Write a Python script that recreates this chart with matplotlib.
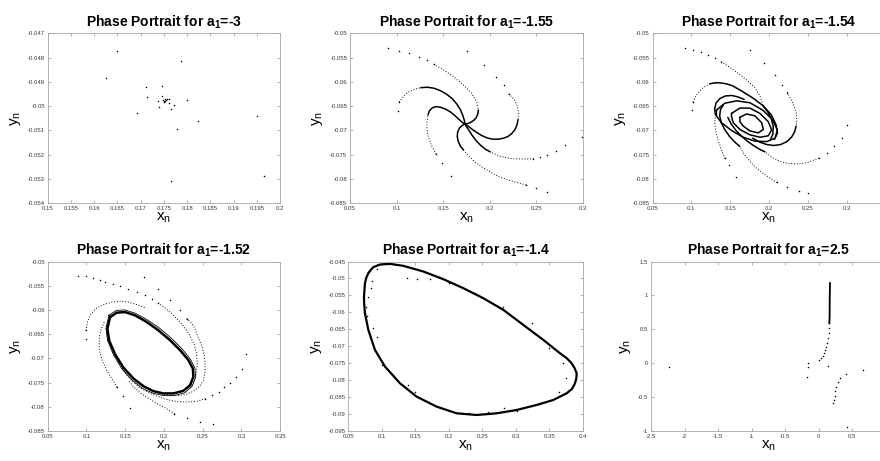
import matplotlib
matplotlib.use("Agg")
import matplotlib.pyplot as plt
from matplotlib.ticker import FixedLocator, FuncFormatter

plt.rcParams['font.family'] = ['Liberation Sans', 'DejaVu Sans']
plt.rcParams['mathtext.fontset'] = 'custom'
plt.rcParams['mathtext.rm'] = 'Liberation Sans'
plt.rcParams['mathtext.it'] = 'Liberation Sans:italic'
plt.rcParams['mathtext.bf'] = 'Liberation Sans:bold'

# ---------------- a1 = -3 : scattered iterates around the fixed point
p1_x = [0.16499, 0.17877, 0.16255, 0.17123, 0.17468, 0.17138, 0.17453, 0.17374,
        0.17403, 0.17489, 0.17525, 0.17561, 0.17511, 0.1754, 0.1750, 0.1752,
        0.17611, 0.17611, 0.17719, 0.17654, 0.18006, 0.16915, 0.18228, 0.17791,
        0.19505, 0.17647, 0.19641]
p1_y = [-0.04773, -0.04815, -0.04883, -0.0492, -0.04917, -0.04962, -0.04957, -0.04977,
        -0.05003, -0.04975, -0.04979, -0.04972, -0.04983, -0.04973, -0.04978, -0.04969,
        -0.0497, -0.04985, -0.04996, -0.05013, -0.04975, -0.05027, -0.0506, -0.05093,
        -0.0504, -0.05308, -0.05289]

# ---------------- a1 = -1.55 : stable focus
p2_dots_x = [0.0912, 0.1030, 0.1138, 0.1241, 0.1327, 0.1403,
             0.1757, 0.1940, 0.2065, 0.2151, 0.2208,
             0.299, 0.2807, 0.2710, 0.2620, 0.2542, 0.2470,
             0.1012, 0.1030,
             0.1585, 0.1485, 0.1424,
             0.2613, 0.2499, 0.2388]
p2_dots_y = [-0.0531, -0.0536, -0.0541, -0.0549, -0.0556, -0.0564,
             -0.0536, -0.0565, -0.0589, -0.0607, -0.0625,
             -0.0714, -0.0731, -0.0742, -0.0751, -0.0755, -0.0758,
             -0.0659, -0.0641,
             -0.0793, -0.0768, -0.0748,
             -0.0826, -0.0819, -0.0812]
p2_dotted = [
    ([0.1403, 0.1503, 0.1610, 0.1718, 0.1807, 0.1861, 0.1879],
     [-0.0564, -0.0575, -0.0589, -0.0606, -0.0624, -0.0641, -0.0658]),
    ([0.2208, 0.2262, 0.2298, 0.2312, 0.2305],
     [-0.0625, -0.0636, -0.0650, -0.0665, -0.0678]),
    ([0.2470, 0.2362, 0.2237, 0.2112, 0.2004],
     [-0.0758, -0.0759, -0.0758, -0.0753, -0.0744]),
    ([0.1030, 0.1073, 0.1127, 0.1198, 0.1260],
     [-0.0641, -0.0630, -0.0621, -0.0615, -0.0612]),
    ([0.1424, 0.1377, 0.1342, 0.1327, 0.1327, 0.1338],
     [-0.0748, -0.0732, -0.0714, -0.0699, -0.0682, -0.0668]),
    ([0.2388, 0.2291, 0.2201, 0.2094, 0.2004, 0.1915, 0.1836, 0.1772, 0.1718],
     [-0.0812, -0.0807, -0.0802, -0.0795, -0.0785, -0.0775, -0.0764, -0.0752, -0.0740]),
]
p2_solid = [
    ([0.1879, 0.1873, 0.1855, 0.1825, 0.1790, 0.1760, 0.1736],
     [-0.0658, -0.0666, -0.0674, -0.0680, -0.0684, -0.0686, -0.0687]),
    ([0.2305, 0.2295, 0.2273, 0.2240, 0.2201, 0.2150, 0.2094, 0.2030, 0.1968, 0.1910, 0.1861,
      0.1815, 0.1775, 0.1736],
     [-0.0678, -0.0688, -0.0698, -0.0706, -0.0712, -0.0716, -0.0718, -0.0718, -0.0715, -0.0710,
      -0.0704, -0.0698, -0.0692, -0.0687]),
    ([0.2004, 0.1950, 0.1900, 0.1855, 0.1815, 0.1782, 0.1755, 0.1736],
     [-0.0744, -0.0738, -0.0730, -0.0721, -0.0711, -0.0701, -0.0693, -0.0687]),
    ([0.1260, 0.1330, 0.1400, 0.1470, 0.1535, 0.1595, 0.1645, 0.1685, 0.1712, 0.1728, 0.1736],
     [-0.0612, -0.0611, -0.0613, -0.0618, -0.0625, -0.0634, -0.0645, -0.0657, -0.0669, -0.0679, -0.0687]),
    ([0.1338, 0.1352, 0.1380, 0.1420, 0.1470, 0.1525, 0.1580, 0.1630, 0.1675, 0.1710, 0.1736],
     [-0.0668, -0.0660, -0.0654, -0.0651, -0.0652, -0.0656, -0.0662, -0.0670, -0.0678, -0.0684, -0.0687]),
    ([0.1718, 0.1685, 0.1662, 0.1652, 0.1658, 0.1680, 0.1710, 0.1736],
     [-0.0740, -0.0732, -0.0722, -0.0712, -0.0702, -0.0694, -0.0689, -0.0687]),
]

# ---------------- a1 = -1.54 : weakly stable focus
p3_dots_x = [0.0914, 0.1022, 0.1121, 0.1216, 0.1302, 0.1388,
             0.1754, 0.1940, 0.2078, 0.2172, 0.2237,
             0.3004, 0.2940, 0.2841, 0.2746, 0.2638,
             0.1009, 0.1022,
             0.1573, 0.1487, 0.1431,
             0.2500, 0.2392, 0.2228, 0.2099]
p3_dots_y = [-0.0531, -0.0534, -0.0539, -0.0545, -0.0551, -0.0559,
             -0.0534, -0.0562, -0.0586, -0.0606, -0.0622,
             -0.0689, -0.0716, -0.0733, -0.0746, -0.0757,
             -0.0658, -0.0641,
             -0.0795, -0.0772, -0.0757,
             -0.0828, -0.0824, -0.0816, -0.0807]
p3_dotted = [
    ([0.1388, 0.1466, 0.1591, 0.1711, 0.1815, 0.1884, 0.1927],
     [-0.0559, -0.0567, -0.0581, -0.0596, -0.0611, -0.0629, -0.0650]),
    ([0.2237, 0.2284, 0.2323, 0.2349, 0.2358, 0.2349],
     [-0.0622, -0.0636, -0.0650, -0.0663, -0.0678, -0.0691]),
    ([0.2638, 0.2530, 0.2444, 0.2358, 0.2250, 0.2142, 0.2034, 0.1948],
     [-0.0757, -0.0764, -0.0768, -0.0769, -0.0768, -0.0764, -0.0755, -0.0744]),
    ([0.1022, 0.1065, 0.1142, 0.1237],
     [-0.0641, -0.0627, -0.0613, -0.0604]),
    ([0.1431, 0.1388, 0.1345, 0.1315, 0.1302, 0.1310],
     [-0.0757, -0.0740, -0.0720, -0.0702, -0.0685, -0.0668]),
    ([0.2099, 0.1991, 0.1905, 0.1819, 0.1746, 0.1677, 0.1625],
     [-0.0807, -0.0796, -0.0786, -0.0775, -0.0762, -0.0748, -0.0733]),
]
p3_solid = [
    # arms winding onto the nested loops
    ([0.1927, 0.1985, 0.2030, 0.2055, 0.2050, 0.2020],
     [-0.0650, -0.0662, -0.0676, -0.0692, -0.0708, -0.0718]),
    ([0.2349, 0.2330, 0.2290, 0.2230, 0.2150, 0.2060, 0.1970, 0.1880, 0.1790],
     [-0.0691, -0.0703, -0.0714, -0.0723, -0.0729, -0.0731, -0.0729, -0.0724, -0.0716]),
    ([0.1948, 0.1880, 0.1800, 0.1720, 0.1640, 0.1570, 0.1510, 0.1470],
     [-0.0744, -0.0739, -0.0731, -0.0722, -0.0711, -0.0699, -0.0686, -0.0673]),
    ([0.1237, 0.1300, 0.1370, 0.1450, 0.1530, 0.1650, 0.1800, 0.1930, 0.2030, 0.2090, 0.2110,
      0.2070],
     [-0.0604, -0.0602, -0.0602, -0.0604, -0.0608, -0.0619, -0.0634, -0.0650, -0.0668, -0.0688,
      -0.0705, -0.0718]),
    ([0.1310, 0.1300, 0.1320, 0.1370, 0.1440, 0.1520, 0.1600, 0.1680],
     [-0.0668, -0.0655, -0.0643, -0.0634, -0.0629, -0.0628, -0.0631, -0.0636]),
    ([0.1625, 0.1560, 0.1490, 0.1430, 0.1385, 0.1365, 0.1375, 0.1410],
     [-0.0733, -0.0724, -0.0712, -0.0698, -0.0684, -0.0670, -0.0657, -0.0648]),
    # nested loops around the focus
    ([0.1323, 0.1431, 0.1582, 0.1754, 0.1918, 0.2047, 0.2108, 0.2078, 0.1970, 0.1819, 0.1668,
      0.1517, 0.1388, 0.1323, 0.1323],
     [-0.0658, -0.0644, -0.0639, -0.0643, -0.0658, -0.0678, -0.0699, -0.0716, -0.0723, -0.0722,
      -0.0714, -0.0700, -0.0684, -0.0670, -0.0658]),
    ([0.1517, 0.1625, 0.1754, 0.1884, 0.1991, 0.2034, 0.1991, 0.1884, 0.1754, 0.1625, 0.1539,
      0.1517, 0.1517],
     [-0.0665, -0.0654, -0.0654, -0.0665, -0.0682, -0.0699, -0.0711, -0.0714, -0.0709, -0.0698,
      -0.0684, -0.0671, -0.0665]),
    ([0.1625, 0.1711, 0.1819, 0.1905, 0.1927, 0.1862, 0.1754, 0.1668, 0.1625, 0.1625],
     [-0.0673, -0.0666, -0.0670, -0.0684, -0.0698, -0.0705, -0.0701, -0.0691, -0.0682, -0.0673]),
]

# ---------------- a1 = -1.52 : small limit cycle
p4_cycle_x = [0.1305, 0.1391, 0.1498, 0.1627, 0.1779, 0.1928, 0.2080, 0.2209, 0.2316, 0.2373,
              0.2380, 0.2338, 0.2251, 0.2122, 0.1993, 0.1864, 0.1735, 0.1606, 0.1476, 0.1369,
              0.1292, 0.1270, 0.1305]
p4_cycle_y = [-0.06147, -0.06056, -0.06044, -0.06112, -0.0625, -0.06421, -0.06627, -0.06833,
              -0.07038, -0.07209, -0.07382, -0.07553, -0.0767, -0.07724, -0.07724, -0.07677,
              -0.07574, -0.07415, -0.07189, -0.06915, -0.06627, -0.06386, -0.06147]
p4_ring_x = [0.1290, 0.1385, 0.1498, 0.1632, 0.1790, 0.1945, 0.2100, 0.2232, 0.2342, 0.2400,
             0.2408, 0.2362, 0.2268, 0.2130, 0.1993, 0.1858, 0.1722, 0.1590, 0.1458, 0.1350,
             0.1272, 0.1252, 0.1290]
p4_ring_y = [-0.0611, -0.0601, -0.0600, -0.0607, -0.0621, -0.0638, -0.0659, -0.0680, -0.0702,
             -0.0720, -0.0739, -0.0758, -0.0771, -0.0777, -0.0777, -0.0772, -0.0762, -0.0745,
             -0.0722, -0.0693, -0.0663, -0.0638, -0.0611]
p4_dots_x = [0.0887, 0.0995, 0.1090, 0.1170, 0.1240, 0.1348, 0.1434, 0.1542, 0.1649, 0.1757, 0.1843, 0.1929,
             0.1745, 0.1929, 0.2080, 0.2209, 0.2295,
             0.3061, 0.3005, 0.2932, 0.2855, 0.2777, 0.2704, 0.2618, 0.2532,
             0.0995, 0.0995,
             0.1563, 0.1469, 0.1391,
             0.2639, 0.2459, 0.2295, 0.2136]
p4_dots_y = [-0.0530, -0.0530, -0.0534, -0.0538, -0.0543, -0.0546, -0.0551, -0.0556, -0.0563, -0.0570, -0.0577, -0.0586,
             -0.0532, -0.0556, -0.0580, -0.0601, -0.0618,
             -0.0692, -0.0721, -0.0738, -0.0750, -0.0760, -0.0769, -0.0776, -0.0783,
             -0.0661, -0.0642,
             -0.0802, -0.0777, -0.0759,
             -0.0836, -0.0832, -0.0824, -0.0814]
p4_dotted = [
    ([0.1929, 0.2015, 0.2100, 0.2185, 0.2265, 0.2335, 0.2390, 0.2420, 0.2430, 0.2420, 0.2390, 0.2330],
     [-0.0586, -0.0596, -0.0608, -0.0621, -0.0636, -0.0653, -0.0671, -0.0690, -0.0710, -0.0730, -0.0748, -0.0762]),
    ([0.2295, 0.2381, 0.2424, 0.2467, 0.2501, 0.2519, 0.2531, 0.2531, 0.2510, 0.2460, 0.2380, 0.2274,
      0.2144, 0.2015, 0.1886],
     [-0.0618, -0.0632, -0.0649, -0.0666, -0.0680, -0.0693, -0.0711, -0.0728, -0.0745, -0.0758, -0.0768,
      -0.0775, -0.0777, -0.0775, -0.0769]),
    ([0.2532, 0.2446, 0.2338, 0.2231, 0.2123, 0.2015, 0.1908, 0.1800, 0.1692, 0.1598, 0.1520, 0.1456, 0.1400],
     [-0.0783, -0.0788, -0.0790, -0.0790, -0.0788, -0.0784, -0.0778, -0.0771, -0.0761, -0.0748, -0.0735,
      -0.0719, -0.0702]),
    ([0.0995, 0.1012, 0.1055, 0.1124, 0.1219, 0.1327, 0.1434, 0.1542, 0.1649, 0.1757],
     [-0.0642, -0.0625, -0.0609, -0.0597, -0.0589, -0.0584, -0.0582, -0.0584, -0.0589, -0.0595]),
    ([0.1391, 0.1327, 0.1262, 0.1210, 0.1176, 0.1163, 0.1167, 0.1189, 0.1228],
     [-0.0759, -0.0742, -0.0724, -0.0707, -0.0690, -0.0673, -0.0656, -0.0640, -0.0625]),
    ([0.2136, 0.2024, 0.1908, 0.1800, 0.1692, 0.1606, 0.1542],
     [-0.0814, -0.0803, -0.0793, -0.0783, -0.0771, -0.0759, -0.0745]),
]

# ---------------- a1 = -1.4 : large limit cycle
p5_cycle_x = [0.0749, 0.0737, 0.0734, 0.0749, 0.0770, 0.0799, 0.0835, 0.0873, 0.0973, 0.1122,
              0.1321, 0.1620, 0.1919, 0.2217, 0.2516, 0.2815, 0.3113, 0.3412, 0.3661, 0.3760,
              0.3835, 0.3880, 0.3910, 0.3905, 0.3885, 0.3840, 0.3760, 0.3561, 0.3312, 0.3014,
              0.2715, 0.2416, 0.2118, 0.1819, 0.1520, 0.1272, 0.1048, 0.0898, 0.0799, 0.0749]
p5_cycle_y = [-0.06026, -0.0575, -0.05533, -0.0514, -0.0497, -0.04845, -0.0475, -0.04667,
              -0.04589, -0.04569, -0.04628, -0.04795, -0.05022, -0.05287, -0.05583, -0.05927,
              -0.0637, -0.06813, -0.07207, -0.0735, -0.07502, -0.0765, -0.07797, -0.0795,
              -0.08093, -0.0826, -0.08388, -0.08585, -0.08732, -0.0888, -0.08978, -0.09028,
              -0.08978, -0.08781, -0.08486, -0.08093, -0.0760, -0.07108, -0.06518, -0.06026]
p5_dots_x = [0.0933, 0.0858, 0.0838, 0.0863, 0.0933, 0.1371, 0.1520, 0.1719, 0.2008, 0.2392,
             0.2815, 0.3248, 0.3501, 0.3701, 0.3750, 0.3651, 0.3347, 0.3020, 0.2820, 0.2580,
             0.2300, 0.2000, 0.1396, 0.1500, 0.0760, 0.0775, 0.1000, 0.0800]
p5_dots_y = [-0.04726, -0.05061, -0.05287, -0.06449, -0.06734, -0.04992, -0.05012, -0.05022,
             -0.0514, -0.05415, -0.05829, -0.06321, -0.07059, -0.07482, -0.07945, -0.08358,
             -0.08703, -0.0890, -0.0882, -0.0893, -0.0897, -0.0890, -0.0815, -0.0835,
             -0.0585, -0.0610, -0.0755, -0.0555]

# ---------------- a1 = 2.5 : divergent orbit
p6_dots_x = [-2.2267, -0.154, -0.154, -0.174, 0.144, 0.010, 0.040, 0.060, 0.080, 0.100, 0.115,
             0.129, 0.139, 0.150, 0.154, 0.159, 0.403, 0.318, 0.284, 0.263, 0.248, 0.239, 0.229,
             0.219, 0.657, 0.428]
p6_dots_y = [-0.050, 0.009, -0.051, -0.203, -0.045, 0.048, 0.073, 0.107, 0.147, 0.196, 0.245,
             0.304, 0.369, 0.443, 0.517, 0.590, -0.158, -0.217, -0.281, -0.346, -0.409, -0.479,
             -0.542, -0.591, -0.104, -0.945]
p6_branch_x = [0.159, 0.164, 0.165, 0.169]
p6_branch_y = [0.590, 0.688, 0.934, 1.181]

titles = ['-3', '-1.55', '-1.54', '-1.52', '-1.4', '2.5']
xlims = [(0.15, 0.2), (0.05, 0.3), (0.05, 0.35), (0.05, 0.35), (0.05, 0.4), (-2.5, 1)]
ylims = [(-0.054, -0.047), (-0.085, -0.05), (-0.085, -0.05), (-0.085, -0.05), (-0.095, -0.045), (-1, 1.5)]
xstep = [0.005, 0.05, 0.05, 0.05, 0.05, 0.5]
ystep = [0.001, 0.005, 0.005, 0.005, 0.005, 0.5]

W, H = 880, 461
fig = plt.figure(figsize=(W / 100, H / 100), dpi=100)
boxes = [(47.7, 33.3, 232.5, 170), (350, 33.3, 232.7, 170), (652.5, 33.3, 233, 170),
         (47.7, 261.5, 232.5, 169.5), (348.3, 261.5, 234.4, 169.5), (651, 261.5, 234.7, 169.5)]
axes = []
for i, (l, t, w, h) in enumerate(boxes):
    ax = fig.add_axes([l / W, (H - t - h) / H, w / W, h / H])
    ax.set_xlim(*xlims[i])
    ax.set_ylim(*ylims[i])
    nx = int(round((xlims[i][1] - xlims[i][0]) / xstep[i]))
    ny = int(round((ylims[i][1] - ylims[i][0]) / ystep[i]))
    ax.xaxis.set_major_locator(FixedLocator([xlims[i][0] + k * xstep[i] for k in range(nx + 1)]))
    ax.yaxis.set_major_locator(FixedLocator([ylims[i][0] + k * ystep[i] for k in range(ny + 1)]))
    fmt = FuncFormatter(lambda v, p: '%g' % round(v, 6))
    ax.xaxis.set_major_formatter(fmt)
    ax.yaxis.set_major_formatter(fmt)
    ax.tick_params(direction='in', length=2, width=0.4, color='#777777', labelsize=4.3,
                   labelcolor='#3a3a3a', top=True, right=True, pad=2)
    for s in ax.spines.values():
        s.set_color('#a8a8a8')
        s.set_linewidth(0.6)
    ax.set_title(r'Phase Portrait for a$_{\mathbf{1}}$=' + titles[i], fontsize=10,
                 fontweight='bold', pad=5)
    ax.set_xlabel(r'x$_{\mathrm{n}}$', fontsize=11, labelpad=0)
    ax.set_ylabel(r'y$_{\mathrm{n}}$', fontsize=11, labelpad=3.5)
    axes.append(ax)

dot = dict(linestyle='none', marker='.', color='k', markersize=2.2, markeredgewidth=0)
chain = dict(color='k', lw=0.8, linestyle=(0, (0.1, 2.4)), dash_capstyle='round')
solid = dict(color='k', lw=1.1, solid_joinstyle='round', solid_capstyle='round')

axes[0].plot(p1_x, p1_y, **dot)

axes[1].plot(p2_dots_x, p2_dots_y, **dot)
for xs, ys in p2_dotted:
    axes[1].plot(xs, ys, **chain)
for xs, ys in p2_solid:
    axes[1].plot(xs, ys, **solid)

axes[2].plot(p3_dots_x, p3_dots_y, **dot)
for xs, ys in p3_dotted:
    axes[2].plot(xs, ys, **chain)
for xs, ys in p3_solid:
    axes[2].plot(xs, ys, **solid)

axes[3].plot(p4_dots_x, p4_dots_y, **dot)
for xs, ys in p4_dotted:
    axes[3].plot(xs, ys, **chain)
axes[3].plot(p4_ring_x, p4_ring_y, color='k', lw=0.6, solid_joinstyle='round')
axes[3].plot(p4_cycle_x, p4_cycle_y, color='k', lw=1.8, solid_joinstyle='round')

axes[4].plot(p5_cycle_x, p5_cycle_y, color='k', lw=1.6, solid_joinstyle='round')
axes[4].plot(p5_dots_x, p5_dots_y, **dot)

axes[5].plot(p6_dots_x, p6_dots_y, **dot)
axes[5].plot(p6_branch_x, p6_branch_y, color='k', lw=1.3)

fig.savefig('out.png', dpi=100)
